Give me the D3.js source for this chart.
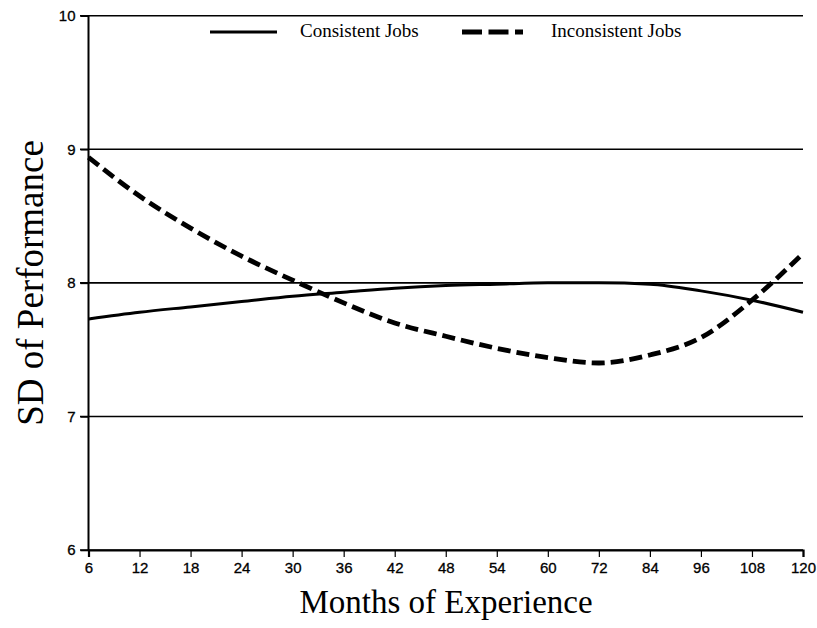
<!DOCTYPE html>
<html><head><meta charset="utf-8">
<script src="https://cdn.jsdelivr.net/npm/d3@7"></script>
<style>body{margin:0;background:#fff}</style>
</head><body>
<svg id="c" width="817" height="628"></svg>
<script>
const months = ["6","12","18","24","30","36","42","48","54","60","72","84","96","108","120"];
const consistent = [7.73,7.78,7.82,7.86,7.90,7.93,7.96,7.98,7.99,8.0,8.0,7.99,7.94,7.87,7.78];
const inconsistent = [8.94,8.65,8.41,8.20,8.02,7.85,7.70,7.60,7.51,7.44,7.40,7.46,7.59,7.87,8.22];
const yTicks = [6,7,8,9,10];

const svg = d3.select("#c");
const x = d3.scalePoint().domain(months).range([88.5, 803]);
const y = d3.scaleLinear().domain([6,10]).range([550, 15.7]);
const sans = "Liberation Sans, Arial, sans-serif";
const serif = "Liberation Serif, Times New Roman, serif";

// gridlines
svg.append("g").selectAll("line").data(yTicks).join("line")
  .attr("x1", 80).attr("x2", 803).attr("y1", d=>y(d)).attr("y2", d=>y(d))
  .attr("stroke","#000").attr("stroke-width",1.6);

// y axis
const ya = svg.append("g").attr("transform","translate(88.5,0)")
  .call(d3.axisLeft(y).tickValues(yTicks).tickSize(8).tickPadding(5).tickFormat(d3.format("d")));
ya.select(".domain").remove();
ya.selectAll("text").attr("font-family",sans).attr("font-size",15).attr("fill","#000")
  .attr("stroke","#000").attr("stroke-width",0.3);
ya.selectAll("line").attr("stroke-width",1.6);
svg.append("line").attr("x1",88.5).attr("x2",88.5).attr("y1",y(10)).attr("y2",y(6))
  .attr("stroke","#000").attr("stroke-width",2);

// x axis
const xa = svg.append("g").attr("transform","translate(0,550)")
  .call(d3.axisBottom(x).tickSize(7).tickPadding(5));
xa.select(".domain").attr("stroke-width",2.2);
xa.selectAll("text").attr("font-family",sans).attr("font-size",15).attr("fill","#000")
  .attr("stroke","#000").attr("stroke-width",0.3);
xa.selectAll("line").attr("stroke-width",1.2);

// lines
const line = d3.line().x((d,i)=>x(months[i])).y(d=>y(d)).curve(d3.curveMonotoneX);
svg.append("path").datum(consistent).attr("d",line)
  .attr("fill","none").attr("stroke","#000").attr("stroke-width",3);
svg.append("path").datum(inconsistent).attr("d",line)
  .attr("fill","none").attr("stroke","#000").attr("stroke-width",4.8).attr("stroke-dasharray","13,6");

// legend
svg.append("line").attr("x1",210).attr("x2",277).attr("y1",32).attr("y2",32)
  .attr("stroke","#000").attr("stroke-width",3);
svg.append("text").attr("x",300).attr("y",37).text("Consistent Jobs")
  .attr("font-family",serif).attr("font-size",19).attr("fill","#000");
svg.append("line").attr("x1",462).attr("x2",523).attr("y1",32).attr("y2",32)
  .attr("stroke","#000").attr("stroke-width",4.8).attr("stroke-dasharray","20,6.5");
svg.append("text").attr("x",551).attr("y",37).text("Inconsistent Jobs")
  .attr("font-family",serif).attr("font-size",19).attr("fill","#000");

// axis titles
svg.append("text").attr("x",446).attr("y",613).attr("text-anchor","middle")
  .text("Months of Experience").attr("font-family",serif).attr("font-size",33).attr("fill","#000");
svg.append("text").attr("transform","translate(43,283) rotate(-90)").attr("text-anchor","middle")
  .text("SD of Performance").attr("font-family",serif).attr("font-size",37).attr("fill","#000");
</script>
</body></html>
